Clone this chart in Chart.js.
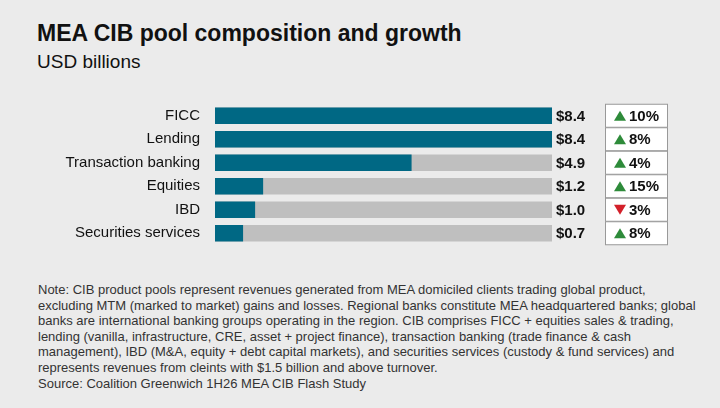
<!DOCTYPE html><html><head><meta charset="utf-8">
<script src="https://cdn.jsdelivr.net/npm/chart.js@4/dist/chart.umd.min.js"></script>
<style>
body{margin:0;width:720px;height:408px;background:#ebebeb;font-family:"Liberation Sans",Arial,sans-serif;position:relative;overflow:hidden}
#t{position:absolute;left:37px;top:20px;font-size:23px;font-weight:bold;color:#111}
#s{position:absolute;left:37px;top:51px;font-size:19px;color:#111}
#cv{position:absolute;left:0;top:88px}
#n{position:absolute;left:38px;top:282px;width:660px;font-size:13px;line-height:15.6px;color:#333}
</style></head><body>
<div id="t">MEA CIB pool composition and growth</div>
<div id="s">USD billions</div>
<canvas id="cv" width="720" height="173" style="width:720px;height:173px"></canvas>
<div id="n">Note: CIB product pools represent revenues generated from MEA domiciled clients trading global product, excluding MTM (marked to market) gains and losses. Regional banks constitute MEA headquartered banks; global banks are international banking groups operating in the region. CIB comprises FICC + equities sales &amp; trading, lending (vanilla, infrastructure, CRE, asset + project finance), transaction banking (trade finance &amp; cash management), IBD (M&amp;A, equity + debt capital markets), and securities services (custody &amp; fund services) and represents revenues from cleints with $1.5 billion and above turnover.<br>Source: Coalition Greenwich 1H26 MEA CIB Flash Study</div>
<script>
const categories=["FICC","Lending","Transaction banking","Equities","IBD","Securities services"];
const values=[8.4,8.4,4.9,1.2,1.0,0.7];
const growth=[10,8,4,15,-3,8];
const maxVal=8.4;
const track=categories.map(()=>maxVal);
const labels={id:"lab",afterDatasetsDraw(ch){
 const c=ch.ctx,m=ch.getDatasetMeta(0);
 m.data.forEach((b,i)=>{
  const y=b.y;
  c.save();
  c.font="bold 15px 'Liberation Sans',Arial";c.fillStyle="#111";c.textBaseline="middle";c.textAlign="left";
  c.fillText("$"+values[i].toFixed(1),556,y+1);
  c.fillStyle="#fff";c.strokeStyle="#999";c.lineWidth=1;
  c.fillRect(605.5,y-11.5,62,23);c.strokeRect(605.5,y-11.5,62,23);
  const g=growth[i];
  const tx=614;
  c.beginPath();
  if(g>=0){c.fillStyle="#2e8b3a";c.moveTo(tx,y+5);c.lineTo(tx+12,y+5);c.lineTo(tx+6,y-5);}
  else{c.fillStyle="#d3202a";c.moveTo(tx,y-5);c.lineTo(tx+12,y-5);c.lineTo(tx+6,y+5);}
  c.closePath();c.fill();
  c.fillStyle="#111";c.font="bold 15px 'Liberation Sans',Arial";
  c.fillText(Math.abs(g)+"%",tx+15,y+1);
  c.restore();
 });}};
new Chart(document.getElementById("cv"),{type:"bar",
 data:{labels:categories,datasets:[
  {data:values,backgroundColor:"#006884",barPercentage:0.7,categoryPercentage:1,grouped:false,order:0},
  {data:track,backgroundColor:"#bfbfbf",barPercentage:0.7,categoryPercentage:1,grouped:false,order:1}]},
 options:{indexAxis:"y",responsive:false,animation:false,devicePixelRatio:1,
  layout:{padding:{left:0,right:168,top:0,bottom:0}},
  plugins:{legend:{display:false},tooltip:{enabled:false}},
  scales:{x:{display:false,min:0,max:maxVal},
   y:{grid:{display:false},border:{display:false},afterFit(s){s.width=215;},
    ticks:{color:"#111",font:{size:15,family:"'Liberation Sans',Arial"},padding:7}}}},
 plugins:[labels]});
</script></body></html>
